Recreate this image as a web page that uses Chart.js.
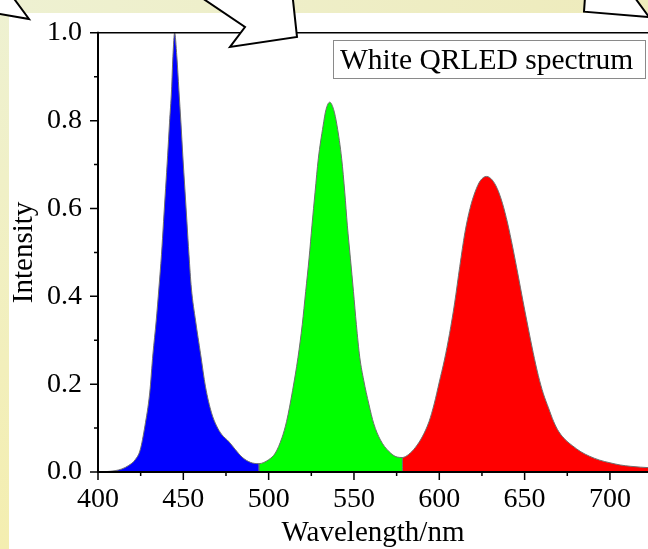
<!DOCTYPE html>
<html>
<head>
<meta charset="utf-8">
<script src="https://cdn.jsdelivr.net/npm/chart.js@4/dist/chart.umd.min.js"></script>
<style>
  html, body { margin: 0; padding: 0; background: #fff; overflow: hidden; }
  canvas { display: block; }
</style>
</head>
<body>
<canvas id="spectrum" width="648" height="549"></canvas>
<script>
// values
const blueWavelength = [400, 405, 410, 414, 418, 421.8, 424.7, 427.5, 430.3, 432.2, 434.1, 435.7, 437.2, 438.4, 439.6, 440.8, 441.9, 443.1, 443.9, 444.9,
  446.2, 447.4, 448.6, 449.7, 450.9, 452.1, 453.3, 454.7, 457.2, 460.1, 463.0, 466.5, 469.5, 472.6, 476.5, 480.5, 484.4, 489.3, 494.3, 494.3];
const blueIntensity = [0, 0.001, 0.003, 0.007, 0.015, 0.028, 0.05, 0.105, 0.18, 0.269, 0.344, 0.419, 0.495, 0.57, 0.645, 0.72, 0.795, 0.87, 0.946, 1.0,
  0.946, 0.87, 0.795, 0.72, 0.645, 0.57, 0.495, 0.419, 0.344, 0.269, 0.194, 0.135, 0.105, 0.085, 0.070, 0.051, 0.034, 0.022, 0.019, 0];

const greenWavelength = [494.3, 494.3, 500.0, 503.9, 507.8, 510.5, 514.0, 517.2, 519.7, 521.7, 523.7, 525.4, 527.2, 529.1, 531.9, 533.6, 535.8,
  538.1, 540.1, 542.8, 544.6, 546.1, 547.9, 549.7, 551.4, 553.4, 555.7, 558.7, 561.6, 565.5, 570.4, 575.3, 578.4, 578.4];
const greenIntensity = [0, 0.019, 0.028, 0.043, 0.078, 0.115, 0.185, 0.261, 0.336, 0.411, 0.487, 0.562, 0.637, 0.713, 0.788, 0.825, 0.842,
  0.825, 0.788, 0.713, 0.637, 0.562, 0.487, 0.411, 0.336, 0.261, 0.209, 0.155, 0.110, 0.073, 0.047, 0.034, 0.033, 0];

const redWavelength = [578.4, 578.4, 582, 586, 590, 594, 597, 600, 603, 606, 609, 612, 615, 618, 621, 624, 627.7, 631, 634, 637, 640,
  643, 646, 649, 652, 655, 658, 661, 664, 667, 670, 674, 678, 683, 688, 694, 700, 706, 712, 718, 722.3];
const redIntensity = [0, 0.033, 0.040, 0.056, 0.080, 0.115, 0.155, 0.205, 0.255, 0.315, 0.385, 0.468, 0.545, 0.600, 0.638, 0.663, 0.673, 0.665, 0.645, 0.612, 0.567,
  0.512, 0.452, 0.390, 0.330, 0.272, 0.220, 0.178, 0.146, 0.115, 0.092, 0.073, 0.060, 0.046, 0.036, 0.027, 0.021, 0.016, 0.013, 0.011, 0.010];

const xTickValues = [400, 450, 500, 550, 600, 650, 700];
const xMinorValues = [425, 475, 525, 575, 625, 675];
const yTickValues = [0, 0.2, 0.4, 0.6, 0.8, 1.0];
const yMinorValues = [0.1, 0.3, 0.5, 0.7, 0.9];
const legendText = 'White QRLED spectrum';

const serif = '"Liberation Serif", "Times New Roman", serif';
Chart.defaults.font.family = serif;
Chart.defaults.color = '#000';

function toPoints(xs, ys) {
  return xs.map((x, i) => ({ x: x, y: ys[i] }));
}

function band(label, xs, ys, colour) {
  return {
    label: label,
    data: toPoints(xs, ys),
    backgroundColor: colour,
    borderColor: '#6e6e6e',
    borderWidth: 1,
    fill: 'origin',
    pointRadius: 0,
    cubicInterpolationMode: 'monotone'
  };
}

// page background: pale yellow edge with white slide area
const backdrop = {
  id: 'backdrop',
  beforeDraw(chart) {
    const ctx = chart.ctx;
    const w = chart.width, h = chart.height;
    ctx.save();
    const top = ctx.createLinearGradient(0, 0, w, 0);
    top.addColorStop(0, '#eef1d2');
    top.addColorStop(1, '#eeebbb');
    ctx.fillStyle = top;
    ctx.fillRect(0, 0, w, 13);
    const side = ctx.createLinearGradient(0, 0, 0, h);
    side.addColorStop(0, '#eef1d2');
    side.addColorStop(1, '#f4eeb0');
    ctx.fillStyle = side;
    ctx.fillRect(0, 0, 9, h);
    ctx.fillStyle = '#fff';
    ctx.fillRect(9, 13, w - 9, h - 13);
    ctx.restore();
  }
};

// axis frame with major and minor tick marks
const frame = {
  id: 'frame',
  afterDatasetsDraw(chart) {
    const ctx = chart.ctx;
    const area = chart.chartArea;
    const xs = chart.scales.x, ys = chart.scales.y;
    ctx.save();
    ctx.strokeStyle = '#000';
    ctx.lineWidth = 1.5;
    ctx.beginPath();
    xTickValues.forEach(v => { const p = xs.getPixelForValue(v); ctx.moveTo(p, area.bottom); ctx.lineTo(p, area.bottom + 8); });
    xMinorValues.forEach(v => { const p = xs.getPixelForValue(v); ctx.moveTo(p, area.bottom); ctx.lineTo(p, area.bottom + 4); });
    yTickValues.forEach(v => { const p = ys.getPixelForValue(v); ctx.moveTo(area.left, p); ctx.lineTo(area.left - 8, p); });
    yMinorValues.forEach(v => { const p = ys.getPixelForValue(v); ctx.moveTo(area.left, p); ctx.lineTo(area.left - 4, p); });
    ctx.stroke();
    ctx.lineWidth = 2;
    ctx.beginPath();
    ctx.moveTo(area.left, area.bottom);
    ctx.lineTo(area.right, area.bottom);
    ctx.moveTo(area.left, area.bottom + 1);
    ctx.lineTo(area.left, area.top - 1);
    ctx.stroke();
    ctx.lineWidth = 1.5;
    ctx.beginPath();
    ctx.moveTo(area.left, area.top);
    ctx.lineTo(area.right, area.top);
    ctx.stroke();
    ctx.restore();
  },
  afterDraw(chart) {
    const ctx = chart.ctx;
    ctx.save();
    // white callout arrows from the slide, overlapping the plot frame
    const arrows = [
      [[-10, -10], [-10, 12.3], [29, 19], [7.6, -10]],
      [[190.2, -10], [245, 27], [230, 47], [297, 37], [291.9, -10]],
      [[585.5, -10], [584, 11.7], [649, 17], [629.2, -10]]
    ];
    ctx.fillStyle = '#fff';
    ctx.strokeStyle = '#000';
    ctx.lineWidth = 2;
    ctx.lineJoin = 'miter';
    arrows.forEach(poly => {
      ctx.beginPath();
      poly.forEach((p, i) => i ? ctx.lineTo(p[0], p[1]) : ctx.moveTo(p[0], p[1]));
      ctx.closePath();
      ctx.fill();
      ctx.stroke();
    });
    // legend box
    ctx.fillStyle = '#fff';
    ctx.fillRect(333.5, 40.5, 312, 38);
    ctx.strokeStyle = '#8a8a8a';
    ctx.lineWidth = 1;
    ctx.strokeRect(333.5, 40.5, 312, 38);
    ctx.fillStyle = '#000';
    ctx.font = '29.5px ' + serif;
    ctx.textBaseline = 'alphabetic';
    ctx.fillText(legendText, 340, 68.5);
    ctx.restore();
  }
};

new Chart(document.getElementById('spectrum'), {
  type: 'line',
  data: {
    datasets: [
      band('Blue', blueWavelength, blueIntensity, '#0000ff'),
      band('Green', greenWavelength, greenIntensity, '#00ff00'),
      band('Red', redWavelength, redIntensity, '#ff0000')
    ]
  },
  options: {
    responsive: false,
    animation: false,
    layout: { padding: { top: 29, left: 0, right: 0, bottom: 0 } },
    plugins: {
      legend: { display: false },
      tooltip: { enabled: false }
    },
    scales: {
      x: {
        type: 'linear',
        min: 400,
        max: 722.3,
        grid: { display: false, drawTicks: false },
        border: { display: false },
        afterBuildTicks: scale => { scale.ticks = xTickValues.map(v => ({ value: v })); },
        afterFit: scale => { scale.height = 77; },
        ticks: { padding: 11, font: { size: 28 }, maxRotation: 0, autoSkip: false },
        title: { display: true, text: 'Wavelength/nm', font: { size: 29, lineHeight: 1 }, padding: { top: 0, bottom: 1 } }
      },
      y: {
        type: 'linear',
        min: 0,
        max: 1,
        grid: { display: false, drawTicks: false },
        border: { display: false },
        afterBuildTicks: scale => { scale.ticks = yTickValues.map(v => ({ value: v })); },
        afterFit: scale => { scale.width = 98; },
        ticks: { padding: 16, font: { size: 28 }, autoSkip: false, callback: v => v.toFixed(1) },
        title: { display: true, text: 'Intensity', font: { size: 29, lineHeight: 1 }, padding: { top: 10, bottom: 0 } }
      }
    }
  },
  plugins: [backdrop, frame]
});
</script>
</body>
</html>
